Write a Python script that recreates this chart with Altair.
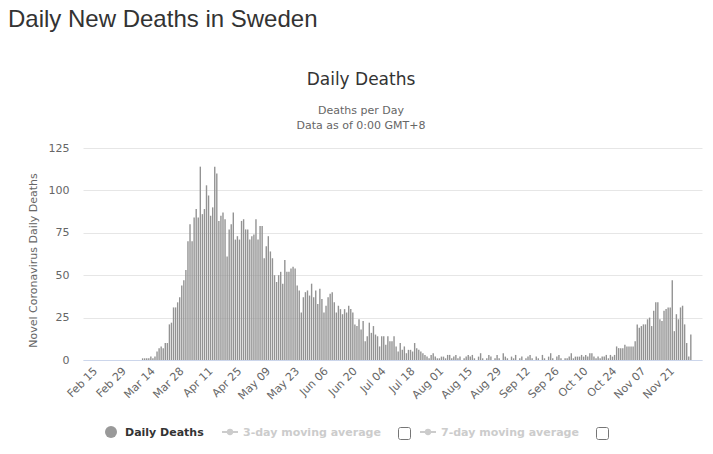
import altair as alt
import pandas as pd

# Daily new deaths in Sweden, 2020, one list per month (Feb starts on the 15th)
feb = [0, 0, 0, 0, 0, 0, 0, 0, 0, 0, 0, 0, 0, 0, 0]
mar = [0, 0, 0, 0, 0, 0, 0, 0, 0, 0, 1, 1, 1, 1, 2, 1, 2, 5, 7, 8, 7, 10, 10, 21, 22,
       31, 31, 34, 37, 44, 47]
apr = [53, 70, 80, 70, 84, 89, 84, 114, 86, 89, 103, 97, 85, 90, 114, 110, 82, 85, 87, 83,
       61, 77, 80, 87, 71, 73, 71, 82, 83, 77]
may = [77, 71, 73, 74, 83, 71, 79, 79, 60, 67, 73, 64, 60, 50, 46, 50, 52, 45, 59, 52,
       52, 54, 55, 54, 44, 41, 28, 37, 40, 41, 38]
jun = [45, 37, 41, 33, 42, 36, 28, 32, 37, 39, 40, 34, 28, 32, 30, 27, 30, 28, 32, 30,
       28, 21, 20, 24, 18, 23, 11, 14, 22, 16]
jul = [20, 15, 14, 8, 14, 14, 9, 14, 11, 11, 14, 8, 5, 10, 6, 8, 4, 6, 6, 5,
       10, 7, 6, 5, 4, 3, 2, 1, 3, 4, 2]
aug = [1, 1, 2, 2, 1, 3, 3, 1, 2, 3, 1, 2, 0, 1, 2, 3, 2, 3, 1, 0,
       2, 4, 1, 0, 1, 3, 2, 0, 1, 3, 1]
sep = [0, 4, 2, 1, 0, 2, 1, 3, 0, 1, 2, 0, 1, 2, 3, 1, 0, 2, 1, 0,
       3, 1, 0, 2, 4, 1, 0, 2, 3, 1]
oct_ = [0, 1, 1, 2, 4, 1, 2, 2, 2, 3, 2, 3, 2, 4, 4, 2, 1, 2, 1, 2,
        2, 3, 1, 3, 2, 3, 8, 7, 7, 7, 9]
nov = [8, 8, 8, 8, 11, 21, 19, 20, 21, 21, 24, 25, 20, 29, 34, 34, 24, 23, 29, 30,
       31, 31, 47, 17, 27, 24, 31, 32, 21, 10]
dec = [2, 15]

y_ticks = [0, 25, 50, 75, 100, 125]

deaths = feb + mar + apr + may + jun + jul + aug + sep + oct_ + nov + dec
dates = pd.date_range("2020-02-15", periods=len(deaths), freq="D").strftime("%Y-%m-%d")
df = pd.DataFrame({"date": list(dates), "deaths": deaths})

# fortnightly axis labels starting on Feb 15
label_days = pd.date_range("2020-02-15", "2020-11-21", freq="14D")
x_values = [alt.DateTime(year=d.year, month=d.month, date=d.day, utc=True) for d in label_days]

AX_FONT = "DejaVu Sans"
GREY_TXT = "#666666"
DARK_TXT = "#333333"
LIGHT = "#cccccc"

bars = alt.Chart(df).mark_bar(size=1.4, color="#939393").encode(
    x=alt.X(
        "date:T",
        title=None,
        scale=alt.Scale(
            type="utc",
            domain=[alt.DateTime(year=2020, month=2, date=13, hours=12, utc=True),
                    alt.DateTime(year=2020, month=12, date=5, utc=True)],
            nice=False,
        ),
        axis=alt.Axis(
            values=x_values, labelExpr="utcFormat(datum.value, '%b %d')",
            labelAngle=-45, labelAlign="right", labelBaseline="top", labelPadding=5,
            labelFont=AX_FONT, labelFontSize=11, labelColor=GREY_TXT,
            ticks=False, grid=False, domainColor="#ccd6eb", domainWidth=1,
            labelOverlap=False,
        ),
    ),
    y=alt.Y(
        "deaths:Q",
        scale=alt.Scale(domain=[0, 125], nice=False),
        axis=alt.Axis(
            values=y_ticks, title="Novel Coronavirus Daily Deaths",
            titleFont=AX_FONT, titleFontSize=11, titleFontWeight="normal",
            titleColor=GREY_TXT, titleX=-50, titleY=112, titleAngle=-90,
            titleAlign="center", titleBaseline="middle",
            labelFont=AX_FONT, labelFontSize=11, labelColor=GREY_TXT,
            labelPadding=14, ticks=False, domain=False,
            grid=True, gridColor="#e6e6e6", gridWidth=1,
        ),
    ),
)

one = alt.Data(values=[{}])


def text(label, x, y, size, color, font=AX_FONT, align="left", weight="normal"):
    return alt.Chart(one).mark_text(
        text=label, font=font, fontSize=size, color=color, align=align,
        baseline="alphabetic", fontWeight=weight,
    ).encode(x=alt.value(x), y=alt.value(y))


page_title = text("Daily New Deaths in Sweden", -75, -121, 24, DARK_TXT, font="Liberation Sans")
chart_title = text("Daily Deaths", 278, -63, 17, DARK_TXT, align="center")
sub1 = text("Deaths per Day", 278, -34, 11, GREY_TXT, align="center")
sub2 = text("Data as of 0:00 GMT+8", 278, -19, 11, GREY_TXT, align="center")

# legend row under the axis
leg_dot = alt.Chart(one).mark_circle(size=144, color="#999999", opacity=1).encode(
    x=alt.value(28), y=alt.value(284))
leg_txt1 = text("Daily Deaths", 42, 288, 11, DARK_TXT, weight="bold")

ma3_line = alt.Chart(one).mark_rule(color=LIGHT, strokeWidth=2).encode(
    x=alt.value(139), x2=alt.value(155), y=alt.value(284))
ma3_dot = alt.Chart(one).mark_circle(size=40, color=LIGHT, opacity=1).encode(
    x=alt.value(147), y=alt.value(284))
ma3_txt = text("3-day moving average", 160, 288, 11, LIGHT, weight="bold")
box1 = alt.Chart(one).mark_rect(fill="white", stroke="#767676", strokeWidth=1, cornerRadius=2).encode(
    x=alt.value(315.5), x2=alt.value(327.5), y=alt.value(279.5), y2=alt.value(291.5))

ma7_line = alt.Chart(one).mark_rule(color=LIGHT, strokeWidth=2).encode(
    x=alt.value(337), x2=alt.value(353), y=alt.value(284))
ma7_dot = alt.Chart(one).mark_circle(size=40, color=LIGHT, opacity=1).encode(
    x=alt.value(345), y=alt.value(284))
ma7_txt = text("7-day moving average", 358, 288, 11, LIGHT, weight="bold")
box2 = alt.Chart(one).mark_rect(fill="white", stroke="#767676", strokeWidth=1, cornerRadius=2).encode(
    x=alt.value(513.5), x2=alt.value(525.5), y=alt.value(279.5), y2=alt.value(291.5))

chart = alt.layer(
    bars, page_title, chart_title, sub1, sub2,
    leg_dot, leg_txt1, ma3_line, ma3_dot, ma3_txt, box1,
    ma7_line, ma7_dot, ma7_txt, box2,
).properties(
    width=619,
    height=212,
    padding={"left": 83, "top": 148, "right": 11, "bottom": 94},
    autosize=alt.AutoSizeParams(type="none"),
    background="white",
).configure_view(stroke=None)

chart.save("out.html", embed_options={"renderer": "svg", "actions": False})
